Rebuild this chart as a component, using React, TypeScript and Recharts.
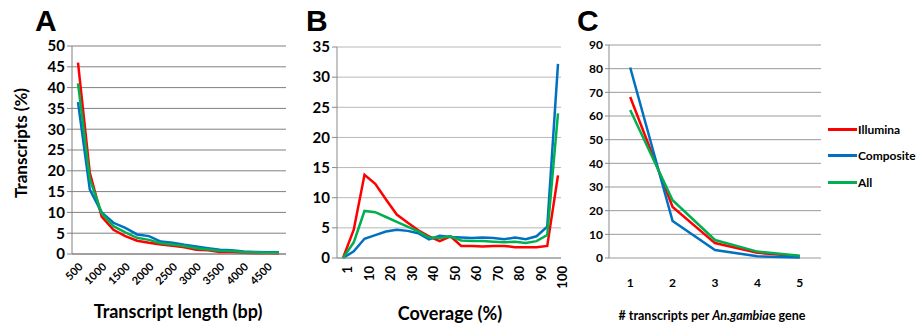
import { LineChart, Line, XAxis, YAxis, CartesianGrid } from 'recharts'

// Panel A: transcript length distribution
const lengthBins = [500, 750, 1000, 1250, 1500, 1750, 2000, 2250, 2500, 2750, 3000, 3250, 3500, 3750, 4000, 4250, 4500, 4750]
const lengthIllumina = [46, 19.5, 9, 5.8, 4.3, 3.2, 2.7, 2.3, 2.0, 1.6, 1.0, 0.9, 0.5, 0.5, 0.3, 0.2, 0.2, 0.1]
const lengthComposite = [36.5, 15.5, 10, 7.5, 6.3, 4.7, 4.3, 3.0, 2.7, 2.2, 1.8, 1.4, 1.0, 0.9, 0.6, 0.5, 0.4, 0.4]
const lengthAll = [41, 18, 9.8, 6.7, 5.2, 3.9, 3.4, 2.6, 2.3, 1.9, 1.4, 1.1, 0.8, 0.7, 0.5, 0.4, 0.3, 0.3]
const lengthTicks = [0, 5, 10, 15, 20, 25, 30, 35, 40, 45, 50]

// Panel B: coverage distribution
const coverageBins = [1, 5, 10, 15, 20, 25, 30, 35, 40, 45, 50, 55, 60, 65, 70, 75, 80, 85, 90, 95, 100]
const coverageIllumina = [0, 4.7, 13.8, 12.3, 9.7, 7.2, 5.9, 4.6, 3.6, 2.8, 3.6, 2.0, 2.0, 1.9, 2.0, 2.0, 1.8, 1.8, 1.8, 2.0, 13.7]
const coverageComposite = [0, 1.1, 3.2, 3.8, 4.4, 4.7, 4.5, 4.1, 3.1, 3.7, 3.5, 3.4, 3.3, 3.4, 3.3, 3.1, 3.4, 3.1, 3.6, 5.2, 32.2]
const coverageAll = [0, 2.6, 7.8, 7.6, 6.8, 6.0, 5.2, 4.4, 3.4, 3.3, 3.6, 2.9, 2.8, 2.8, 2.7, 2.6, 2.7, 2.5, 2.8, 3.8, 24]
const coverageTicks = [0, 5, 10, 15, 20, 25, 30, 35]

// Panel C: transcripts per gene
const perGene = [1, 2, 3, 4, 5]
const perGeneIllumina = [68, 21.6, 6.3, 2.2, 0.7]
const perGeneComposite = [80.5, 15.6, 3.4, 0.7, 0.2]
const perGeneAll = [62.5, 24.4, 7.6, 2.7, 1.0]
const perGeneTicks = [0, 10, 20, 30, 40, 50, 60, 70, 80, 90]
const perGeneBoundaries = [0.5, 1.5, 2.5, 3.5, 4.5, 5.5]

const seriesNames = ['Illumina', 'Composite', 'All']
const seriesColors = ['#ff0000', '#0070c0', '#00b050']

const font = 'Lato, "Open Sans", sans-serif'

const lengthData = lengthBins.map((len, i) => ({
  len,
  Illumina: lengthIllumina[i],
  Composite: lengthComposite[i],
  All: lengthAll[i],
}))
const coverageData = coverageBins.map((cov, i) => ({
  cov,
  Illumina: coverageIllumina[i],
  Composite: coverageComposite[i],
  All: coverageAll[i],
}))
const perGeneData = perGene.map((n, i) => ({
  n,
  Illumina: perGeneIllumina[i],
  Composite: perGeneComposite[i],
  All: perGeneAll[i],
}))

function renderLines(xAxisId?: string) {
  return seriesNames.map((name, i) => (
    <Line
      key={name}
      type="linear"
      dataKey={name}
      stroke={seriesColors[i]}
      strokeWidth={2.5}
      dot={false}
      isAnimationActive={false}
      {...(xAxisId ? { xAxisId } : {})}
    />
  ))
}

export default function App() {
  const tickStyle = { fill: '#000', fontFamily: font, fontWeight: 700 }

  return (
    <div style={{ position: 'absolute', left: 0, top: 0, width: 921, height: 327, background: '#fff' }}>
      {/* A */}
      <div style={{ position: 'absolute', left: 0, top: 0 }}>
        <LineChart width={300} height={327} data={lengthData} margin={{ top: 46, right: 14, left: 0, bottom: 28 }}>
          <CartesianGrid vertical={false} stroke="#808080" strokeWidth={1} />
          <XAxis
            dataKey="len"
            interval={1}
            height={45}
            padding={{ left: 6, right: 7 }}
            tickLine={false}
            axisLine={{ stroke: '#808080' }}
            angle={-45}
            textAnchor="end"
            tick={{ ...tickStyle, fontSize: 11 }}
          />
          <YAxis
            width={72}
            domain={[0, 50]}
            ticks={lengthTicks}
            interval={0}
            tickSize={5}
            tickLine={{ stroke: '#808080' }}
            axisLine={{ stroke: '#808080' }}
            tick={{ ...tickStyle, fontSize: 15 }}
          />
          <YAxis yAxisId="r" orientation="right" width={0} tick={false} tickLine={false} axisLine={{ stroke: '#808080' }} />
          {renderLines()}
        </LineChart>
      </div>

      {/* B */}
      <div style={{ position: 'absolute', left: 290, top: 0 }}>
        <LineChart width={280} height={327} data={coverageData} margin={{ top: 47, right: 9, left: 0, bottom: 29 }}>
          <CartesianGrid vertical={false} stroke="#b8b8b8" strokeWidth={1} />
          <XAxis
            dataKey="cov"
            interval={1}
            height={40}
            padding={{ left: 6, right: 3 }}
            tickLine={false}
            axisLine={{ stroke: '#8a8a8a' }}
            angle={-90}
            textAnchor="end"
            tick={{ ...tickStyle, fontSize: 13 }}
          />
          <YAxis
            width={47}
            domain={[0, 35]}
            ticks={coverageTicks}
            interval={0}
            tickSize={5}
            tickLine={{ stroke: '#8a8a8a' }}
            axisLine={{ stroke: '#8a8a8a' }}
            tick={{ ...tickStyle, fontSize: 15 }}
          />
          <YAxis yAxisId="r" orientation="right" width={0} tick={false} tickLine={false} axisLine={{ stroke: '#8a8a8a' }} />
          {renderLines()}
        </LineChart>
      </div>

      {/* C */}
      <div style={{ position: 'absolute', left: 560, top: 0 }}>
        <LineChart width={361} height={327} data={perGeneData} margin={{ top: 45, right: 100, left: 0, bottom: 39 }}>
          <CartesianGrid vertical={false} stroke="#9a9a9a" strokeWidth={1} xAxisId="marks" />
          <XAxis
            xAxisId="marks"
            type="number"
            dataKey="n"
            domain={[0.5, 5.5]}
            ticks={perGeneBoundaries}
            interval={0}
            height={0}
            tickSize={5}
            tickLine={{ stroke: '#8a8a8a' }}
            axisLine={{ stroke: '#8a8a8a' }}
            tickFormatter={() => ''}
          />
          <XAxis
            xAxisId="labels"
            type="number"
            dataKey="n"
            domain={[0.5, 5.5]}
            ticks={perGene}
            interval={0}
            height={30}
            tickLine={false}
            axisLine={false}
            tickMargin={14}
            tick={{ ...tickStyle, fontSize: 12 }}
          />
          <YAxis
            width={49}
            domain={[0, 90]}
            ticks={perGeneTicks}
            interval={0}
            tickSize={4}
            tickLine={{ stroke: '#8a8a8a' }}
            axisLine={{ stroke: '#8a8a8a' }}
            tick={{ ...tickStyle, fontSize: 12 }}
          />
          <YAxis yAxisId="r" orientation="right" width={0} tick={false} tickLine={false} axisLine={{ stroke: '#8a8a8a' }} />
          {renderLines('labels')}
        </LineChart>
      </div>

      {/* legend */}
      <div style={{ position: 'absolute', left: 828, top: 116, fontFamily: font, fontWeight: 700, fontSize: 12 }}>
        {seriesNames.map((name, i) => (
          <div key={name} style={{ display: 'flex', alignItems: 'center', height: 26.5 }}>
            <div style={{ width: 29, height: 3, background: seriesColors[i] }} />
            <span style={{ marginLeft: 1 }}>{name}</span>
          </div>
        ))}
      </div>

      {/* titles */}
      <svg width={921} height={327} style={{ position: 'absolute', left: 0, top: 0, pointerEvents: 'none' }}>
        <g fontFamily='"Liberation Sans", Arial, sans-serif' fontWeight={700} fontSize={30}>
          <text x={35} y={31}>A</text>
          <text x={306} y={31}>B</text>
          <text x={577} y={31}>C</text>
        </g>
        <g fontFamily={font} fontWeight={700} fill="#000">
          <text transform="translate(27,143) rotate(-90)" textAnchor="middle" fontSize={17}>Transcripts (%)</text>
          <text x={178} y={318} textAnchor="middle" fontSize={18}>Transcript length (bp)</text>
          <text x={450} y={320} textAnchor="middle" fontSize={18}>Coverage (%)</text>
          <text x={712} y={320} textAnchor="middle" fontSize={12.5}>
            # transcripts per <tspan fontStyle="italic">An.gambia</tspan>e gene
          </text>
        </g>
      </svg>
    </div>
  )
}
